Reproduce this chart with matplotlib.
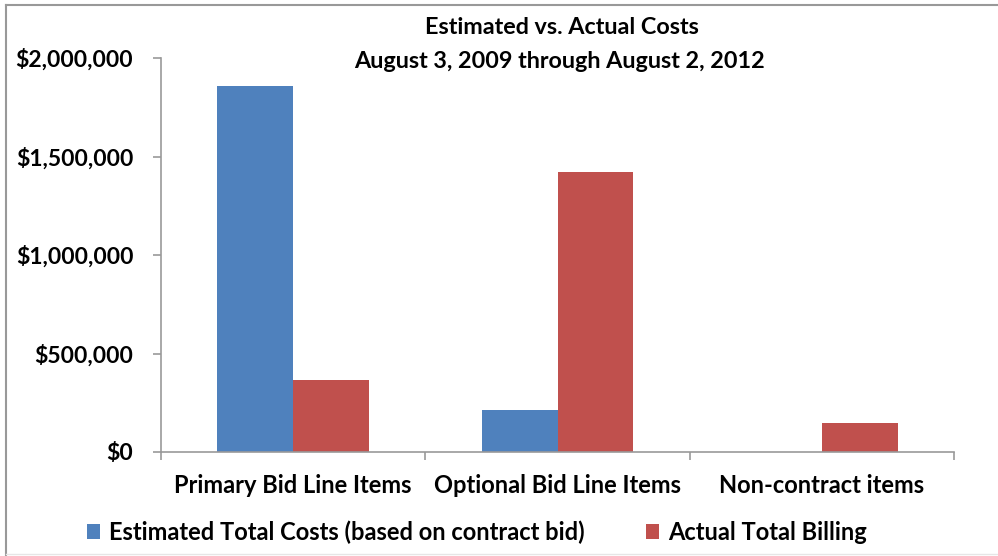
import matplotlib.pyplot as plt
import matplotlib.ticker as mticker
from matplotlib.lines import Line2D
import numpy as np

categories = ["Primary Bid Line Items", "Optional Bid Line Items", "Non-contract items"]
estimated = [1858000, 213000, 0]
actual = [365000, 1421000, 147000]
series_names = ["Estimated Total Costs (based on contract bid)", "Actual Total Billing"]
title_lines = ["Estimated vs. Actual Costs", "August 3, 2009 through August 2, 2012"]

plt.rcParams['font.family'] = ['Lato', 'DejaVu Sans']
plt.rcParams['font.weight'] = 'bold'

W, H = 998, 556
fig = plt.figure(figsize=(W / 100, H / 100), dpi=100)
ax = fig.add_axes([161 / W, 1 - 452 / H, (954 - 161) / W, (452 - 58) / H])

x = np.arange(len(categories))
w = 0.287
ax.bar(x - w / 2, estimated, w, color='#4F81BD', label=series_names[0])
ax.bar(x + w / 2, actual, w, color='#C0504D', label=series_names[1])

ax.set_xlim(-0.5, len(categories) - 0.5)
ax.set_ylim(0, 2000000)
ax.yaxis.set_major_locator(mticker.MultipleLocator(500000))
ax.yaxis.set_major_formatter(mticker.FuncFormatter(lambda v, p: f"${v:,.0f}"))

ax.set_xticks(x)
ax.set_xticklabels(categories)
ax.set_xticks(np.arange(len(categories) + 1) - 0.5, minor=True)
ax.tick_params(axis='x', which='major', length=0, pad=16, labelsize=17)
ax.tick_params(axis='x', which='minor', length=6, color='#999999', width=1.2)
ax.tick_params(axis='y', length=6, color='#999999', width=1.2, pad=14, labelsize=16.5)

for s in ['top', 'right']:
    ax.spines[s].set_visible(False)
for s in ['left', 'bottom']:
    ax.spines[s].set_color('#999999')
    ax.spines[s].set_linewidth(1.2)

# two-line title placed by hand
fig.text(562 / W, 1 - 28 / H, title_lines[0], ha='center', va='center',
         fontsize=16.8, fontweight='bold')
fig.text(560 / W, 1 - 62 / H, title_lines[1], ha='center', va='center',
         fontsize=16.8, fontweight='bold')

fig.legend(loc='center', bbox_to_anchor=(477 / W, 1 - 532 / H), ncol=2, frameon=False,
           fontsize=17, handlelength=0.55, handleheight=0.55, handletextpad=0.38,
           columnspacing=2.6, borderpad=0)

# outer frame (top/left gray, faint bottom)
fig.add_artist(Line2D([6 / W, 1], [1 - 5 / H, 1 - 5 / H], transform=fig.transFigure,
                      color='#999999', lw=1.5))
fig.add_artist(Line2D([6 / W, 6 / W], [0, 1 - 5 / H], transform=fig.transFigure,
                      color='#999999', lw=1.5))
fig.add_artist(Line2D([6 / W, 1], [2 / H, 2 / H], transform=fig.transFigure,
                      color='#e6e6e6', lw=1.0))

plt.savefig("out.png", dpi=100)
